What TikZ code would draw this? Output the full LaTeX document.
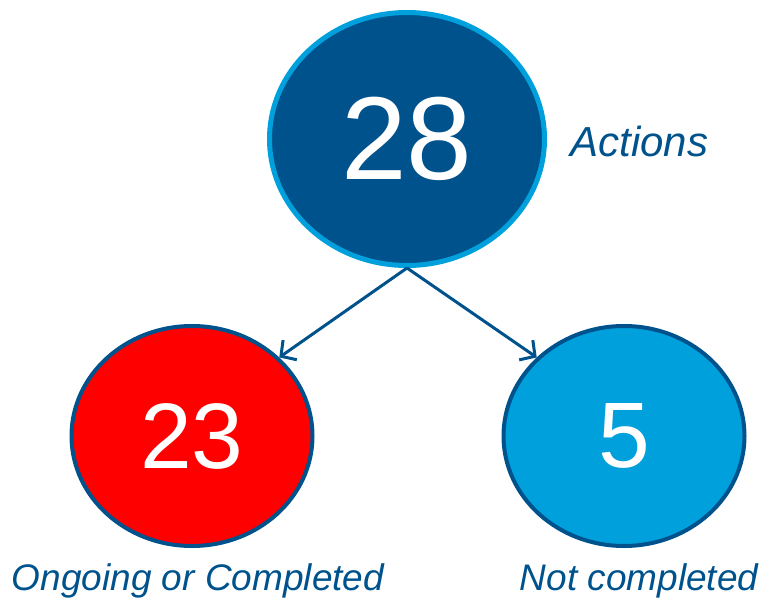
\documentclass[tikz,border=0pt]{standalone}
\usepackage{fontspec}
\setmainfont{Liberation Sans}
\usetikzlibrary{arrows.meta, shapes.geometric, positioning}

\definecolor{navy}{RGB}{0,82,140}
\definecolor{sky}{RGB}{0,160,220}
\definecolor{brightred}{RGB}{255,0,0}

\tikzset{
  count/.style={ellipse, draw=navy, line width=4pt, text=white, inner sep=0pt},
  lbl/.style={text=navy, font=\fontsize{37}{44}\selectfont\itshape, anchor=base, inner sep=0pt},
}

\begin{document}
\begin{tikzpicture}[x=1pt, y=-1pt, >={Straight Barb[length=11pt, width=24pt]}, line width=3pt]

    \useasboundingbox (0,0) rectangle (765,599);

    \node[count, fill=navy, draw=sky, line width=5pt, minimum width=275pt, minimum height=253pt,
          font=\fontsize{118}{130}\selectfont] (total) at (407,139) {28};
    \node[count, fill=brightred, minimum width=241pt, minimum height=220pt,
          font=\fontsize{93}{100}\selectfont] (done) at (192,436) {23};
    \node[count, fill=sky, minimum width=241pt, minimum height=220pt,
          font=\fontsize{93}{100}\selectfont] (open) at (624,436) {5};

    \node[lbl, anchor=base west, font=\fontsize{42}{50}\selectfont\itshape] (actions) at (569,156) {Actions};
    \node[lbl] (donelbl) at (198,590) {Ongoing or Completed};
    \node[lbl] (openlbl) at (639,590) {Not completed};

    \draw[->, navy] (total.south) -- (done.42);
    \draw[->, navy] (total.south) -- (open.138);
\end{tikzpicture}
\end{document}
